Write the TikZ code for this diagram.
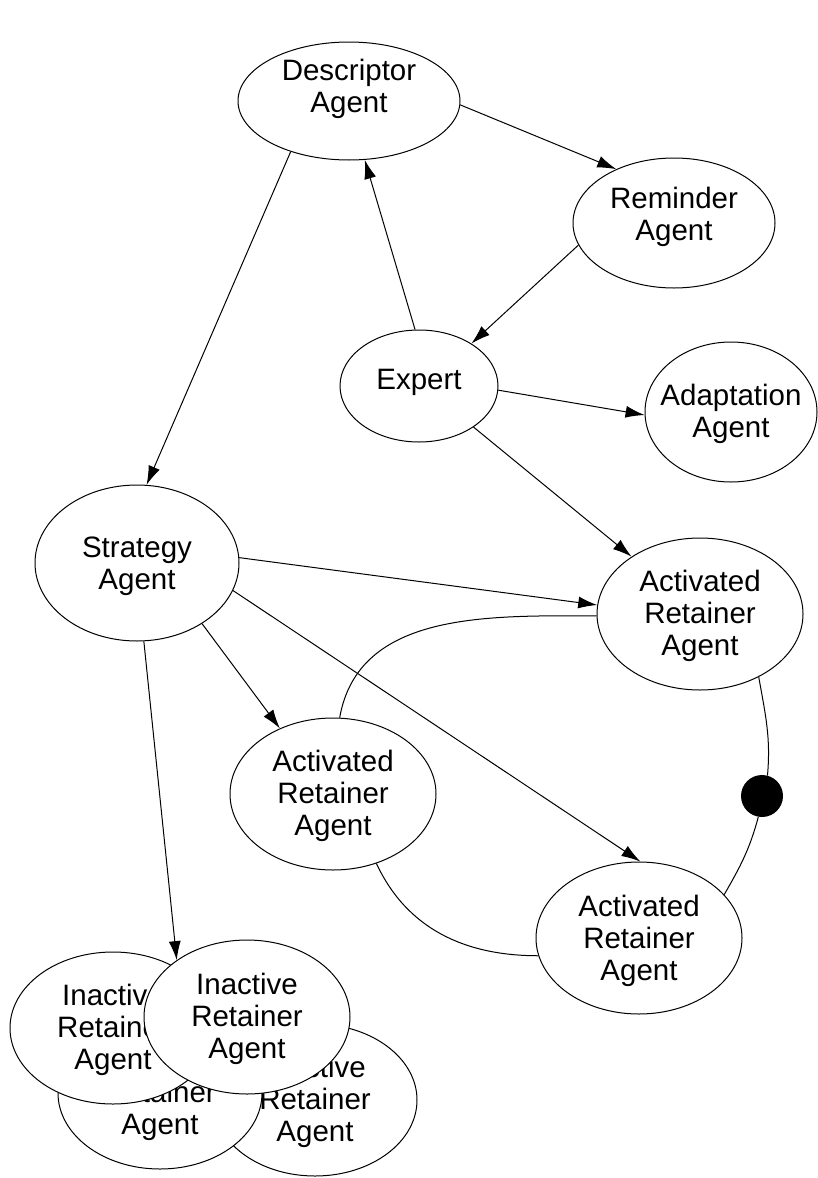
\documentclass[tikz,border=0pt]{standalone}
\usepackage{fontspec}
\setmainfont{Liberation Sans}
\usetikzlibrary{arrows.meta, shapes.geometric}

% text block of an agent, raised by #1 without changing its size
\newcommand{\agtext}[2][-3.5pt]{\raisebox{#1}[\height][\depth]{\begin{tabular}{@{}c@{}}#2\end{tabular}}}

\begin{document}
\begin{tikzpicture}[x=1pt, y=-1pt]
		\tikzset{agent/.style = {shape=ellipse, draw, fill=white, line width=1pt, inner xsep=-15pt, inner ysep=-10pt, font=\fontsize{29.5}{32}\selectfont}}
		\tikzset{retainer/.style = {agent, minimum width=206pt, minimum height=152pt}}
		\tikzset{joint/.style = {shape=circle, fill=black, inner sep=0pt, minimum size=42pt}}
		\tikzset{edge/.style = {-{Latex[length=19pt, width=12pt]}, line width=1pt}}
		\tikzset{link/.style = {line width=1pt}}

		\useasboundingbox (0,0) rectangle (817,1178);

		\node[agent, minimum width=222pt, minimum height=118pt] (desc) at (349,101) {\agtext[11pt]{Descriptor\\Agent}};
		\node[agent, minimum width=202pt, minimum height=130pt] (rem) at (674,223) {\agtext[5pt]{Reminder\\Agent}};
		\node[agent, minimum width=158pt, minimum height=112pt] (expert) at (419,386) {\agtext[3pt]{Expert}};
		\node[agent, minimum width=172pt, minimum height=140pt] (adapt) at (731,412) {\agtext{Adaptation\\Agent}};
		\node[agent, minimum width=204pt, minimum height=156pt] (strat) at (137,563) {\agtext[-4pt]{Strategy\\Agent}};

		\node[retainer] (act1) at (700,614) {\agtext[-3pt]{Activated\\Retainer\\Agent}};
		\node[retainer] (act2) at (333,794) {\agtext{Activated\\Retainer\\Agent}};
		\node[retainer] (act3) at (639,938) {\agtext[-4pt]{Activated\\Retainer\\Agent}};

		% stack of inactive retainers, back to front
		\node[retainer, minimum width=204pt] (inactA) at (315,1100) {\agtext{Inactive\\Retainer\\Agent}};
		\node[retainer, minimum width=204pt] (inactB) at (160,1093) {\agtext{Inactive\\Retainer\\Agent}};
		\node[retainer] (inactC) at (113,1028) {\agtext[-3pt]{Inactive\\Retainer\\Agent}};
		\node[retainer, minimum height=154pt] (inactD) at (247,1017) {\agtext{Inactive\\Retainer\\Agent}};

		\node[joint] (knot) at (762,796) {};

		\draw[edge] (desc.-2) -- (rem.137);
		\draw[edge] (rem.193) -- (expert.39);
		\draw[edge] (expert.94) -- (desc.-75);
		\draw[edge] (desc.221) -- (strat.83);
		\draw[edge] (expert.-3) -- (adapt.182);
		\draw[edge] (expert.-37) -- (act1.140);
		\draw[edge] (strat.3) -- (act1.175);
		\draw[edge] (strat.-43) -- (act2.129);
		\draw[edge] (strat.-16) -- (act3.89);
		\draw[edge] (strat.-85) -- (inactD.141);

		\draw[link] (act2.85) to[out=80, in=180] (act1.181);
		\draw[link] (act2.-58) to[out=-65, in=180] (act3.190);
		\draw[link] (act1.-47) to[out=-80, in=85] (knot.75);
		\draw[link] (knot.-100) to[out=-105, in=60] (act3.27);

	\end{tikzpicture}
\end{document}
